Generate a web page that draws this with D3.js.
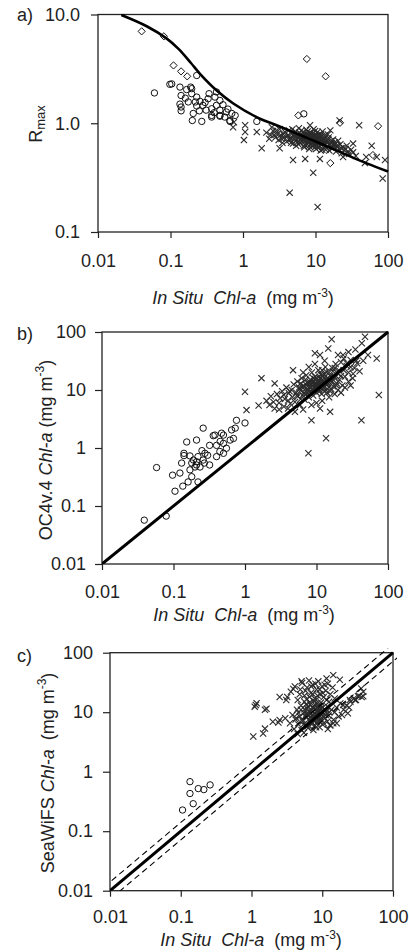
<!DOCTYPE html>
<html>
<head>
<meta charset="utf-8">
<script src="https://cdn.jsdelivr.net/npm/d3@7"></script>
<style>
body { margin: 0; background: #fff; }
text { font-family: "Liberation Sans", Arial, sans-serif; fill: #222; }
</style>
</head>
<body>
<div id="chart"></div>
<script>
// tick values / labels
const chlTicks = [0.01, 0.1, 1, 10, 100];
const chlTickLabels = ["0.01", "0.1", "1", "10", "100"];
const rmaxTicks = [0.1, 1, 10];
const rmaxTickLabels = ["0.1", "1.0", "10.0"];

// panel a) Rmax vs in situ chl
const aCurve = [[0.021,9.9],[0.047,7.8],[0.089,6.0],[0.13,4.8],[0.19,3.6],[0.255,2.85],[0.434,2.0],[0.735,1.52],[1.71,1.1],[2.9,0.96],[10,0.68],[50,0.43],[100,0.36]];
const aCircles = [[0.060,1.9],[0.098,2.28],[0.104,2.3],[0.135,2.15],[0.14,1.8],[0.135,1.5],[0.14,1.41],[0.167,2.04],[0.19,2.15],[0.196,2.08],[0.196,1.87],[0.23,1.74],[0.176,1.57],[0.22,1.57],[0.255,1.59],[0.23,1.44],[0.28,1.46],[0.34,1.87],[0.33,1.68],[0.41,1.74],[0.23,2.75],[0.206,1.23],[0.27,1.04],[0.37,1.36],[0.43,1.46],[0.48,1.32],[0.53,1.48],[0.59,1.27],[0.70,1.23],[0.78,1.18],[0.48,1.18],[0.56,1.14],[0.66,1.04],[0.37,1.14],[0.31,1.32],[0.48,1.62],[0.43,1.94],[0.2,1.06],[0.37,1.18],[0.48,1.16],[0.66,1.06],[1.55,1.04],[0.14,1.3],[0.16,1.7],[0.25,1.3],[0.3,1.55],[0.62,1.35],[0.4,1.25],[6.9,1.22]];
const aDiamonds = [[0.040,7.0],[0.081,6.3],[0.11,3.4],[0.14,3.0],[0.17,2.7],[7.6,3.9],[13.8,2.7],[5.8,1.18],[21.8,1.01],[73,0.94],[16,0.43],[62,0.51]];
const aCrosses = [[1.07,0.96],[1.07,0.83],[1.03,0.70],[1.55,0.83],[1.81,0.59],[8.4,0.96],[40,0.96],[4.9,0.46],[9.3,0.35],[4.4,0.23],[10.7,0.17],[84.5,0.31],[59.6,0.62],[91,0.46],[3.2,0.59],[7.2,0.47],[11.5,0.47],[24,0.49],[48,0.43],[50,0.49],[70,0.49],[16,0.86],[33,0.65],[0.73,0.92],[21.5,1.06],[0.75,1.02],
  [2.1,0.82],[2.4,0.78],[2.6,0.85],[2.8,0.74],[3.0,0.80],[3.2,0.88],[3.4,0.72],[3.6,0.79],[3.8,0.83],[4.0,0.68],[4.1,0.76],[4.3,0.86],[4.5,0.73],[4.7,0.80],[4.9,0.65],[5.1,0.77],[5.3,0.84],[5.5,0.70],[5.7,0.74],[5.9,0.90],[6.1,0.66],[6.3,0.79],[6.5,0.72],[6.7,0.83],[6.9,0.62],[7.1,0.75],[7.3,0.69],[7.5,0.87],[7.7,0.64],[7.9,0.78],[8.1,0.71],[8.3,0.82],[8.5,0.60],[8.7,0.74],[8.9,0.67],[9.1,0.80],[9.3,0.70],[9.5,0.63],[9.7,0.76],[9.9,0.85],[10.2,0.58],[10.5,0.72],[10.8,0.66],[11.1,0.79],[11.4,0.62],[11.7,0.70],[12.0,0.75],[12.4,0.57],[12.8,0.68],[13.2,0.63],[13.6,0.73],[14.0,0.60],[14.5,0.66],[15.0,0.71],[15.5,0.56],[16.0,0.64],[16.6,0.69],[17.2,0.59],[17.8,0.62],[18.5,0.67],[19.2,0.55],[20,0.61],[21,0.58],[22,0.64],[23,0.53],[24,0.60],[25,0.56],[27,0.62],[29,0.52],[31,0.57],[33,0.54],[36,0.50],
  [5.0,0.72],[5.6,0.67],[6.0,0.75],[6.6,0.69],[7.0,0.81],[7.6,0.73],[8.0,0.66],[8.4,0.77],[8.8,0.70],[9.2,0.74],[9.6,0.68],[10.0,0.72],[10.4,0.77],[10.9,0.69],[11.5,0.74],[12.2,0.65],[6.2,0.71],[7.2,0.63],[8.2,0.58],[9.0,0.62],[10.0,0.64],[11.0,0.60],[7.8,0.84],[9.4,0.88],[6.8,0.77],[5.4,0.62],[4.4,0.70],[3.7,0.74],[3.1,0.70],[2.7,0.78],
  [4.2,0.78],[4.6,0.66],[5.2,0.81],[5.8,0.64],[6.4,0.86],[6.9,0.71],[7.4,0.78],[7.9,0.68],[8.6,0.81],[9.1,0.66],[9.8,0.79],[10.3,0.69],[10.7,0.83],[11.3,0.66],[11.9,0.79],[12.6,0.71],[13.4,0.77],[14.2,0.68],[15.2,0.74],[16.3,0.60],[17.5,0.71],[18.8,0.64],[20.5,0.69],[22.5,0.59],[26,0.58],[28,0.55],[7.0,0.60],[8.6,0.64],[9.8,0.60],[11.8,0.56],[13.8,0.57],[6.0,0.82],[5.3,0.76],[4.8,0.88],[3.5,0.66],[2.9,0.86],[2.3,0.72],[2.5,0.92],[3.3,0.78],[12.5,0.84],[14.8,0.79],[9.4,0.73],[8.3,0.70],[7.4,0.76],[10.6,0.63],[12.0,0.69],[13.0,0.66],[16.8,0.66],[19.5,0.62],[15.5,0.63]];

// panel b) OC4v.4 vs in situ chl
const bCircles = [[0.039,0.057],[0.079,0.067],[0.058,0.46],[0.097,0.34],[0.105,0.18],[0.135,0.22],[0.123,0.37],[0.14,0.81],[0.14,0.74],[0.13,0.55],[0.17,0.73],[0.18,0.55],[0.17,0.42],[0.16,0.26],[0.21,1.37],[0.26,2.2],[0.22,0.71],[0.21,0.58],[0.235,0.47],[0.2,0.47],[0.275,0.81],[0.26,0.62],[0.32,1.11],[0.32,0.51],[0.40,1.11],[0.445,0.87],[0.40,0.71],[0.50,0.81],[0.55,0.99],[0.38,1.67],[0.50,1.67],[0.73,2.2],[0.62,1.37],[0.50,1.2],[0.21,0.51],[0.18,0.32],[0.22,0.26],[1.0,2.7],[0.76,3.0],[0.36,1.63],[0.47,1.8],[0.65,2.05],[0.69,1.46],[0.153,1.27],[0.25,0.9],[0.3,0.75],[0.45,1.3],[0.19,0.62],[0.27,0.55]];
const bCrosses = [[1.0,9.3],[1.05,4.5],[1.7,16],[1.55,5.4],[16.3,75],[14.6,52],[47.7,83],[43,64],[69.5,35],[52.5,40],[74.5,8.2],[42.5,3.0],[13.6,1.47],[7.7,0.81],[8.5,3.0],[15.5,4.2],[11.2,4.8],[2.6,13],[4.7,22],[9.5,43],[11.2,40],[23.5,40],[32.5,19],[26.5,29],
  [2.0,6.5],[2.2,5.5],[2.3,7.8],[2.5,6.2],[2.6,4.8],[2.8,8.5],[3.0,6.0],[3.1,7.2],[3.3,9.5],[3.5,5.2],[3.6,7.0],[3.8,11],[4.0,6.6],[4.1,8.8],[4.3,5.8],[4.5,10],[4.6,7.5],[4.8,12.5],[5.0,6.2],[5.2,9.0],[5.4,14],[5.5,7.8],[5.7,11],[5.9,5.5],[6.0,9.8],[6.2,16],[6.4,8.2],[6.6,12],[6.8,6.8],[7.0,10.5],[7.2,18],[7.4,9.0],[7.6,13],[7.8,7.5],[8.0,11.5],[8.2,15],[8.4,9.5],[8.6,20],[8.8,12],[9.0,8.0],[9.2,14],[9.4,10.5],[9.6,17],[9.8,11.8],[10.0,9.0],[10.3,13.5],[10.6,22],[10.9,10.2],[11.2,15.5],[11.5,12.5],[11.8,8.5],[12.1,18],[12.5,11],[12.9,14],[13.3,25],[13.7,10],[14.1,16],[14.6,12.8],[15,20],[15.5,9.5],[16,14.5],[16.6,24],[17.2,11.5],[17.8,17],[18.5,28],[19.2,13],[20,19],[21,15],[22,30],[23,12],[24,22],[25,17],[26.5,26],[28,20],[30,33],[32,16],[34,24],[37,29],[40,21],[12,6.5],[8.5,5.5],[6.5,4.6],[15,7.5],[18,8.5],[10,6.0],[20,10],[25,11],[5,4.2],[11,11],[9.5,13],[10.5,12],[12,12.5],[8,13],[9,16],[11,17],[13,18.5],[7,15],[6,13],
  [5.3,8.0],[5.8,10.5],[6.3,11.2],[6.7,9.0],[7.1,12.5],[7.5,10.0],[7.9,14.2],[8.3,10.8],[8.7,13.2],[9.1,11.0],[9.5,15.5],[9.9,12.8],[10.2,10.5],[10.6,14.8],[11.0,12.0],[11.4,18.5],[11.9,13.6],[12.4,10.0],[12.8,16.2],[13.3,13.0],[13.8,20.5],[14.3,14.5],[14.9,11.2],[15.6,17.5],[16.3,13.5],[17,21],[18,16],[19,12],[20.5,22],[22,17.5],[6.0,7.0],[7.0,8.3],[8.0,9.2],[9.0,9.8],[10.0,11.2],[11.0,9.5],[12.0,14.8],[13.0,11.5],[14.0,9.0],[16.0,10.5],[3.5,8.2],[4.2,9.5],[4.0,4.8],[3.0,4.6],[6.5,20],[7.8,25],[9.5,28],[12,22],[13,32],[20,40],[28,45],[35,50],[24,35],[30,25],[36,32],[18,24],[28,14],[22,9],[30,12],[45,32]];

// panel c) SeaWiFS vs in situ chl
const cErrorFactor = 1.4;
const cCircles = [[0.106,0.227],[0.15,0.29],[0.135,0.68],[0.135,0.43],[0.177,0.52],[0.212,0.50],[0.26,0.60]];
const cCrosses = [[1.15,13.2],[1.18,14.2],[1.11,12.4],[1.55,11],[1.63,11.4],[1.06,3.9],[1.46,4.4],[1.55,5.3],[2.5,7.4],[3.0,7.9],[3.1,16],[3.9,24.5],[5.1,33],[11.5,37],[14.3,42],[17.7,35],[23,9.6],[35.5,25],[29,16],[32,18.6],[38,18.6],[14.3,6.5],[12.9,6.1],[2.5,18],[2.0,6.9],[2.4,6.7],[19.8,13.2],[24.5,16],
  [3.5,6.5],[3.8,9],[4.0,5.2],[4.2,7.5],[4.4,11],[4.6,6.2],[4.8,8.5],[5.0,13],[5.1,5.0],[5.3,7.0],[5.5,9.8],[5.6,15],[5.8,6.0],[6.0,8.2],[6.1,11.5],[6.3,5.4],[6.5,7.6],[6.6,10],[6.8,13.5],[7.0,6.4],[7.1,8.8],[7.3,12],[7.5,5.0],[7.6,7.2],[7.8,9.5],[8.0,11],[8.2,16],[8.4,6.8],[8.6,8.4],[8.8,10.5],[9.0,13],[9.2,5.6],[9.5,7.8],[9.8,9.2],[10.2,12],[10.5,6.5],[10.9,8.0],[11.3,10],[11.8,7.0],[12.3,8.8],[13,6.0],[13.5,11],[6.2,9.0],[7.4,10.2],[8.1,8.0],[8.9,9.8],[6.9,7.0],[5.7,8.6],[9.6,11.5],[7.9,6.0],
  [3.2,18],[3.6,22],[4.1,27],[4.5,16],[4.9,24],[5.2,31],[5.6,19],[6.1,26],[6.5,34],[6.9,21],[7.3,29],[7.8,17],[8.3,24],[8.8,33],[9.3,20],[9.9,27],[10.5,18],[11.2,23],[12,30],[13,20],[14,26],[12.5,15],[15,17],[16,12],[18,14],[20,11],[17,8.5],[14.5,7.5],[16,6.5],[19,9],[4.5,4.3],[5.5,4.5],[12,5.2],[15,10],[22,13],[25,15],[28,17],[30,16],[33,19],[36,18],[38,22],[24,12],
  [5.2,7.5],[5.6,11.2],[6.0,9.5],[6.3,12.5],[6.6,7.2],[6.9,10.8],[7.2,8.0],[7.5,11.5],[7.8,13.5],[8.1,9.2],[8.4,11.8],[8.7,7.6],[9.0,10.2],[9.3,8.6],[9.7,12.8],[10.0,10.0],[10.4,8.2],[10.8,11.2],[11.2,9.0],[6.4,9.0],[7.0,9.6],[7.7,8.5],[8.3,10.5],[8.9,12.2],[9.4,6.8],[5.9,13.5],[6.7,14.8],[7.6,15.5],[8.5,14.0],[9.6,14.5],[5.4,6.2],[6.2,5.8],[7.3,6.5],[8.2,5.6],[9.1,7.0],[10.1,6.2],[4.6,9.8],[5.0,11.0],[4.3,8.0],[11.8,12.5],[12.6,10.0],[6.6,18],[7.4,20],[8.6,19],[9.2,24],[10.2,21],[5.8,23],[7.0,27],[4.8,20],[11.5,16],[8.0,30],[10.8,29],[6.0,16.5]];

const W = 409, H = 952;
const svg = d3.select("#chart").append("svg")
  .attr("width", W).attr("height", H);

// draws frame, axes and labels of one panel, returns scales
function makePanel(p) {
  const x = d3.scaleLog().domain([0.01, 100]).range([p.left, p.right]);
  const y = d3.scaleLog().domain(p.yDomain).range([p.bottom, p.top]);

  svg.append("g")
    .attr("transform", `translate(0,${p.bottom})`)
    .call(d3.axisBottom(x).tickValues(chlTicks).tickFormat((d, i) => chlTickLabels[i])
      .tickSize(6).tickSizeOuter(0).tickPadding(p.xPad))
    .call(g => g.select(".domain").remove())
    .call(g => g.selectAll("line").attr("stroke", "#222").attr("stroke-width", 1.2))
    .call(g => g.selectAll("text").style("font-size", "18px").attr("fill", "#222"));

  svg.append("g")
    .attr("transform", `translate(${p.left},0)`)
    .call(d3.axisLeft(y).tickValues(p.yTicks).tickFormat((d, i) => p.yLabels[i])
      .tickSize(7).tickSizeOuter(0).tickPadding(p.yPad))
    .call(g => g.select(".domain").remove())
    .call(g => g.selectAll("line").attr("stroke", "#222").attr("stroke-width", 1.2))
    .call(g => g.selectAll("text").style("font-size", "18px").attr("fill", "#222"));

  svg.append("rect")
    .attr("x", p.left).attr("y", p.top)
    .attr("width", p.right - p.left).attr("height", p.bottom - p.top)
    .attr("fill", "none").attr("stroke", "#222").attr("stroke-width", 1.3);

  svg.append("text").attr("x", 17).attr("y", p.tagY)
    .style("font-size", "18px").text(p.tag);

  // x title
  const t = svg.append("text").attr("x", p.xTitleX).attr("y", p.xTitleY)
    .attr("text-anchor", "middle").style("font-size", "18px");
  t.append("tspan").style("font-style", "italic").text("In Situ");
  t.append("tspan").attr("dx", 10).style("font-style", "italic").text("Chl-a");
  t.append("tspan").attr("dx", 10).text("(mg m");
  t.append("tspan").attr("dy", -7).style("font-size", "12px").text("-3");
  t.append("tspan").attr("dy", 7).text(")");

  const clipId = "clip-" + p.tag[0];
  svg.append("clipPath").attr("id", clipId).append("rect")
    .attr("x", p.left).attr("y", p.top - 4)
    .attr("width", p.right - p.left + 4).attr("height", p.bottom - p.top + 4);

  return {x, y, clip: `url(#${clipId})`};
}

function yTitleGroup(xPos, yPos) {
  return svg.append("text")
    .attr("transform", `translate(${xPos},${yPos}) rotate(-90)`)
    .attr("text-anchor", "middle").style("font-size", "18px");
}

function drawCircles(s, data) {
  svg.append("g").selectAll("circle").data(data).join("circle")
    .attr("cx", d => s.x(d[0])).attr("cy", d => s.y(d[1])).attr("r", 3.2)
    .attr("fill", "none").attr("stroke", "#111").attr("stroke-width", 1);
}

function drawCrosses(s, data) {
  const r = 3.1;
  svg.append("g").selectAll("path").data(data).join("path")
    .attr("d", d => {
      const cx = s.x(d[0]), cy = s.y(d[1]);
      return `M${cx - r},${cy - r}L${cx + r},${cy + r}M${cx - r},${cy + r}L${cx + r},${cy - r}`;
    })
    .attr("stroke", "#2a2a2a").attr("stroke-width", 1.1).attr("fill", "none");
}

function drawDiamonds(s, data) {
  const r = 3.6;
  svg.append("g").selectAll("path").data(data).join("path")
    .attr("d", d => {
      const cx = s.x(d[0]), cy = s.y(d[1]);
      return `M${cx},${cy - r}L${cx + r},${cy}L${cx},${cy + r}L${cx - r},${cy}Z`;
    })
    .attr("fill", "none").attr("stroke", "#111").attr("stroke-width", 1);
}

function drawLine(s, data, width, dash) {
  svg.append("path").datum(data)
    .attr("clip-path", s.clip)
    .attr("d", d3.line().x(d => s.x(d[0])).y(d => s.y(d[1])).curve(d3.curveCatmullRom.alpha(0.5)))
    .attr("fill", "none").attr("stroke", "#000")
    .attr("stroke-width", width).attr("stroke-dasharray", dash || null);
}

// ---- panel a
const sa = makePanel({left: 98, right: 388, top: 14.5, bottom: 232, yDomain: [0.1, 10],
  yTicks: rmaxTicks, yLabels: rmaxTickLabels, xPad: 16, yPad: 11,
  tag: "a)", tagY: 21, xTitleX: 243, xTitleY: 304});
drawCrosses(sa, aCrosses);
drawCircles(sa, aCircles);
drawDiamonds(sa, aDiamonds);
drawLine(sa, aCurve, 2.6);
const ta = yTitleGroup(42, 124);
ta.append("tspan").text("R");
ta.append("tspan").attr("dy", 3).style("font-size", "13px").text("max");

// ---- panel b
const sb = makePanel({left: 102, right: 388, top: 332, bottom: 564, yDomain: [0.01, 100],
  yTicks: chlTicks, yLabels: chlTickLabels, xPad: 15, yPad: 9,
  tag: "b)", tagY: 340, xTitleX: 244, xTitleY: 621});
drawCircles(sb, bCircles);
drawCrosses(sb, bCrosses);
drawLine(sb, [[0.01, 0.01], [100, 100]], 3);
const tb = yTitleGroup(52, 450);
tb.append("tspan").text("OC4v.4");
tb.append("tspan").attr("dx", 5).style("font-style", "italic").text("Chl-a");
tb.append("tspan").attr("dx", 5).text("(mg m");
tb.append("tspan").attr("dy", -8).style("font-size", "12px").text("-3");
tb.append("tspan").attr("dy", 8).text(")");

// ---- panel c (tick labels and title sit very close, as in the source)
const sc = makePanel({left: 110, right: 393, top: 652.7, bottom: 890.7, yDomain: [0.01, 100],
  yTicks: chlTicks, yLabels: chlTickLabels, xPad: 14, yPad: 10,
  tag: "c)", tagY: 662, xTitleX: 251, xTitleY: 946});
drawCircles(sc, cCircles);
drawCrosses(sc, cCrosses);
drawLine(sc, [[0.005, 0.005 * cErrorFactor], [200, 200 * cErrorFactor]], 1.1, "6,4");
drawLine(sc, [[0.005, 0.005 / cErrorFactor], [200, 200 / cErrorFactor]], 1.1, "6,4");
drawLine(sc, [[0.01, 0.01], [100, 100]], 3);
const tc = yTitleGroup(54, 773);
tc.append("tspan").text("SeaWiFS");
tc.append("tspan").attr("dx", 5).style("font-style", "italic").text("Chl-a");
tc.append("tspan").attr("dx", 9).text("(mg m");
tc.append("tspan").attr("dy", -8).style("font-size", "12px").text("-3");
tc.append("tspan").attr("dy", 8).text(")");
</script>
</body>
</html>
